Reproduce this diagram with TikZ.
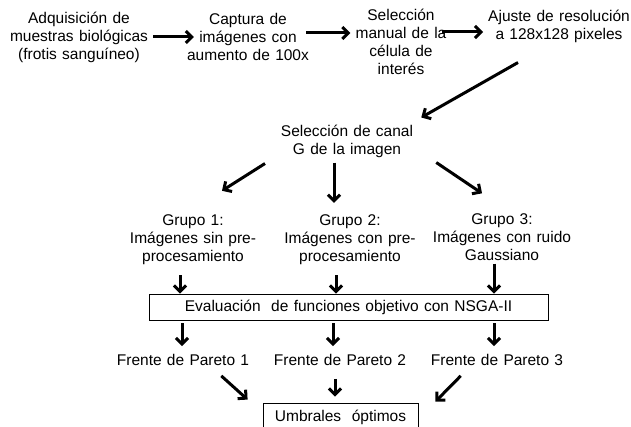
\documentclass[tikz,border=0pt]{standalone}
\usepackage{fontspec}
\setmainfont{Liberation Sans}
\usetikzlibrary{arrows.meta}
\newcommand{\flujofont}{\fontsize{15.5}{18}\selectfont\spaceskip=5.3pt}
\tikzset{
txt/.style={align=center,inner sep=0pt,font=\flujofont},
boxed/.style={draw,line width=0.8pt,inner sep=0pt,font=\flujofont},
arr/.style={line width=3pt,-{Straight Barb[length=6pt,width=12pt]}}
}

\begin{document}
\begin{tikzpicture}[x=1pt,y=-1pt]
\useasboundingbox (0,0) rectangle (631,427);
%fila superior
\node[txt] (adq) at (79,37) {Adquisición de\\muestras biológicas\\(frotis sanguíneo)};
\node[txt] (cap) at (248,37) {Captura de\\imágenes con\\aumento de 100x};
\node[txt] (sel) at (401,42) {Selección\\manual de la\\célula de\\interés};
\node[txt] (aju) at (559,26) {Ajuste de resolución\\a 128x128 pixeles};
\draw[arr] ([xshift=5]adq.east) -- ([xshift=7]cap.west);
\draw[arr] ([xshift=-3,yshift=4]cap.east) -- ([xshift=-5,yshift=4]cap.east -| sel.west);
\draw[arr] ([xshift=-5,yshift=10]sel.east) -- ([xshift=-5,yshift=10]sel.east -| aju.west);
%canal G
\node[txt] (can) at (347,141) {Selección de canal\\G de la imagen};
\draw[arr] ([xshift=-41,yshift=-20]aju.south) -- ([xshift=8,yshift=7]can.north east);
%grupos
\node[txt] (g1) at (193,240) {Grupo 1:\\Imágenes sin pre-\\procesamiento};
\node[txt] (g2) at (350,240) {Grupo 2:\\Imágenes con pre-\\procesamiento};
\node[txt] (g3) at (502,237) {Grupo 3:\\Imágenes con ruido\\Gaussiano};
\draw[arr] ([xshift=-82,yshift=-6]can.south) -- ([xshift=29,yshift=24]g1.north);
\draw[arr] ([xshift=-13,yshift=-5]can.south) -- ([xshift=-16,yshift=12]g2.north);
\draw[arr] ([xshift=23,yshift=-5]can.south east) -- ([xshift=-20,yshift=20]g3.north);
%NSGA-II
\node[boxed,minimum width=399,minimum height=26] (ev) at (348.5,307) {Evaluación\ \ de funciones objetivo con NSGA-II};
\draw[arr] ([xshift=-13,yshift=-10]g1.south) -- ([xshift=-13]g1.south |- ev.north);
\draw[arr] ([xshift=-14,yshift=-10]g2.south) -- ([xshift=-14]g2.south |- ev.north);
\draw[arr] ([xshift=-8,yshift=-3]g3.south) -- ([xshift=-8]g3.south |- ev.north);
%frentes
\node[txt] (f1) at (183,360) {Frente de Pareto 1};
\node[txt] (f2) at (340,360) {Frente de Pareto 2};
\node[txt] (f3) at (497,360) {Frente de Pareto 3};
\draw[arr] ([xshift=-1,yshift=-3]ev.south -| f1) -- ([xshift=-1,yshift=8]f1.north);
\draw[arr] ([xshift=-7,yshift=-3]ev.south -| f2) -- ([xshift=-7,yshift=8]f2.north);
\draw[arr] ([xshift=-3,yshift=-3]ev.south -| f3) -- ([xshift=-3,yshift=8]f3.north);
%umbrales
\node[boxed,minimum width=155,minimum height=28] (umb) at (340.5,417) {Umbrales\ \ óptimos};
\draw[arr] ([xshift=-28,yshift=-10]f1.south east) -- ([xshift=-15,yshift=3]umb.north west);
\draw[arr] ([xshift=-5,yshift=-13]f2.south) -- ([xshift=-5,yshift=6]f2.south |- umb.north);
\draw[arr] ([xshift=30,yshift=-10]f3.south west) -- ([xshift=17,yshift=1]umb.north east);
\end{tikzpicture}
\end{document}
